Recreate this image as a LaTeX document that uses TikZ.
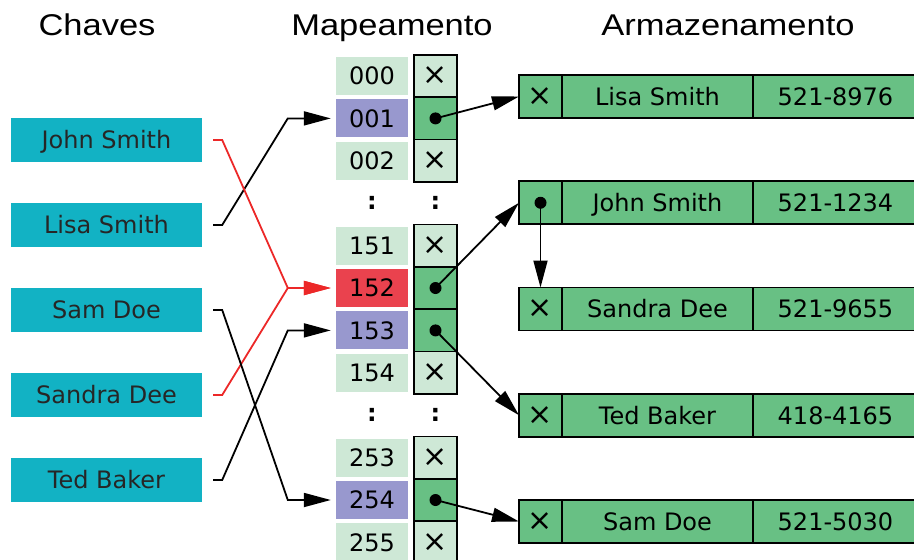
\documentclass[tikz,border=0pt]{standalone}
\usepackage{fontspec}
\setmainfont{DejaVu Sans}
\newfontfamily\headfont[FakeStretch=1.15]{Liberation Sans}
\usepackage{tikz}
\usetikzlibrary{positioning}
\usetikzlibrary{arrows.meta}
\definecolor{KeyCyan}{RGB}{18,178,196}
\definecolor{SlotLight}{RGB}{206,232,214}
\definecolor{SlotPurple}{RGB}{152,152,206}
\definecolor{SlotRed}{RGB}{234,66,78}
\definecolor{RecGreen}{RGB}{104,192,132}
\definecolor{LinkRed}{RGB}{236,40,40}
\tikzstyle{key}=[rectangle,fill=KeyCyan,minimum width=191pt,minimum height=44pt,inner sep=0pt,text height=17.5pt,text depth=0pt,text=black!85]
\tikzstyle{slot}=[rectangle,minimum width=72pt,minimum height=38pt,inner sep=0pt,text height=17.5pt,text depth=0pt]
\tikzstyle{ptr}=[rectangle,draw=black,line width=1.7pt,minimum width=43pt,minimum height=42.4pt,inner sep=0pt,outer sep=0pt]
\tikzstyle{cell}=[rectangle,draw=black,fill=RecGreen,line width=1.7pt,minimum height=43pt,inner sep=0pt,outer sep=0pt,text height=17.5pt,text depth=0pt]
\tikzstyle{link}=[-{Triangle[length=27pt,width=14pt]},line width=1.8pt]
\tikzstyle{head}=[anchor=base,font=\headfont\fontsize{30}{34}\selectfont]
\newcommand*{\cross}{\fontsize{30}{30}\selectfont ×}
% one storage record: #1 name prefix, #2 y, #3 link cell text, #4 name, #5 phone
\newcommand*{\record}[5]{
    \node [cell,minimum width=43pt] (#1 Link) at (540.5,#2) {#3};
    \node [cell,minimum width=191pt,right=0pt of #1 Link] (#1 Name) {#4};
    \node [cell,minimum width=165pt,right=0pt of #1 Name] (#1 Phone) {#5};
}

\begin{document}
\begin{tikzpicture}[x=1pt,y=-1pt,font=\fontsize{24}{28}\selectfont]
    \useasboundingbox (0,0) rectangle (914,560);

    \node [head] (Chaves) at (97,35) {Chaves};
    \node [head] (Mapeamento) at (392,35) {Mapeamento};
    \node [head] (Armazenamento) at (728,35) {Armazenamento};

    % keys
    \foreach \name/\txt/\k in {John/John Smith/0,Lisa/Lisa Smith/1,Sam/Sam Doe/2,Sandra/Sandra Dee/3,Ted/Ted Baker/4}
        \node [key] (key \name) at (106.5,{140+85*\k}) {\txt};

    % buckets
    \foreach \lbl/\k/\col/\full in {000/0/SlotLight/0,001/1/SlotPurple/1,002/2/SlotLight/0,
        151/4/SlotLight/0,152/5/SlotRed/1,153/6/SlotPurple/1,154/7/SlotLight/0,
        253/9/SlotLight/0,254/10/SlotPurple/1,255/11/SlotLight/0}{
        \node [slot,fill=\col] (S\lbl) at (372,{76+42.4*\k}) {\lbl};
        \ifnum\full=1
            \node [ptr,fill=RecGreen] (P\lbl) at (435.5,{76+42.4*\k}) {};
            \fill (P\lbl.center) circle (6pt);
        \else
            \node [ptr,fill=SlotLight] (P\lbl) at (435.5,{76+42.4*\k}) {\cross};
        \fi
    }
    \foreach \k/\g in {3/A,8/B}{
        \node (dots S\g) at (372,{76+42.4*\k}) {\textbf{:}};
        \node (dots P\g) at (435.5,{76+42.4*\k}) {\textbf{:}};
    }

    % storage
    \record{Lisa}{96.5}{\cross}{Lisa Smith}{521-8976}
    \record{John}{202.75}{}{John Smith}{521-1234}
    \record{Sandra}{309}{\cross}{Sandra Dee}{521-9655}
    \record{Ted}{415.25}{\cross}{Ted Baker}{418-4165}
    \record{Sam}{521.5}{\cross}{Sam Doe}{521-5030}
    \fill (John Link.center) circle (6pt);

    % hashing
    \draw [link] ([xshift=11pt]key Lisa.east) -- ++(9,0) -- ([xshift=-48pt]S001.west) -- ([xshift=-5pt]S001.west);
    \draw [link,LinkRed] ([xshift=11pt]key John.east) -- ++(9,0) -- ([xshift=-48pt]S152.west) -- ([xshift=-5pt]S152.west);
    \draw [link,LinkRed] ([xshift=11pt]key Sandra.east) -- ++(9,0) -- ([xshift=-48pt]S152.west) -- ([xshift=-5pt]S152.west);
    \draw [link] ([xshift=11pt]key Sam.east) -- ++(9,0) -- ([xshift=-48pt]S254.west) -- ([xshift=-5pt]S254.west);
    \draw [link] ([xshift=11pt]key Ted.east) -- ++(9,0) -- ([xshift=-48pt]S153.west) -- ([xshift=-5pt]S153.west);

    % pointers into storage
    \draw [link] (P001.center) -- (Lisa Link.west);
    \draw [link] (P152.center) -- (John Link.west);
    \draw [link] (P153.center) -- (Ted Link.west);
    \draw [link] (P254.center) -- (Sam Link.west);
    \draw [link] (John Link.center) -- (Sandra Link.north);
\end{tikzpicture}
\end{document}
